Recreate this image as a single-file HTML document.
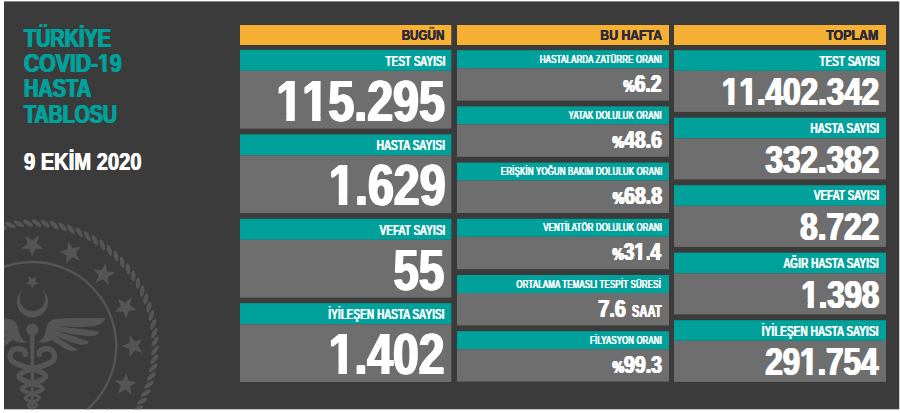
<!DOCTYPE html>
<html lang="tr"><head><meta charset="utf-8"><title>Türkiye COVID-19 Hasta Tablosu</title>
<style>
html,body{margin:0;padding:0;background:#fff;}
body{width:900px;height:413px;overflow:hidden;position:relative;font-family:"Liberation Sans", Arial, sans-serif;font-weight:bold;}
.t{position:absolute;white-space:nowrap;line-height:1;font-weight:bold;display:block;}
</style>
</head><body>
<svg xmlns="http://www.w3.org/2000/svg" width="900" height="413" viewBox="0 0 900 413" style="position:absolute;left:0;top:0"><defs><clipPath id="panel"><rect x="4" y="1.4" width="895.25" height="407.9"/></clipPath></defs>
<rect x="4.00" y="1.40" width="895.25" height="407.90" fill="#3b3b3b"/>
<g fill="#555555" clip-path="url(#panel)"><ellipse cx="155.12" cy="350.39" rx="5.7" ry="2.25" transform="rotate(-54.0 155.12 350.39)"/><ellipse cx="154.50" cy="359.15" rx="5.7" ry="2.25" transform="rotate(-49.9 154.50 359.15)"/><ellipse cx="153.25" cy="367.84" rx="5.7" ry="2.25" transform="rotate(-45.8 153.25 367.84)"/><ellipse cx="151.38" cy="376.42" rx="5.7" ry="2.25" transform="rotate(-41.7 151.38 376.42)"/><ellipse cx="148.91" cy="384.84" rx="5.7" ry="2.25" transform="rotate(-37.6 148.91 384.84)"/><ellipse cx="145.84" cy="393.07" rx="5.7" ry="2.25" transform="rotate(-33.5 145.84 393.07)"/><ellipse cx="142.19" cy="401.06" rx="5.7" ry="2.25" transform="rotate(-29.4 142.19 401.06)"/><ellipse cx="137.98" cy="408.76" rx="5.7" ry="2.25" transform="rotate(-25.3 137.98 408.76)"/><ellipse cx="133.23" cy="416.15" rx="5.7" ry="2.25" transform="rotate(-21.2 133.23 416.15)"/><ellipse cx="-6.64" cy="229.29" rx="5.7" ry="2.25" transform="rotate(-164.4 -6.64 229.29)"/><ellipse cx="1.78" cy="226.82" rx="5.7" ry="2.25" transform="rotate(-160.3 1.78 226.82)"/><ellipse cx="10.36" cy="224.95" rx="5.7" ry="2.25" transform="rotate(-156.2 10.36 224.95)"/><ellipse cx="19.05" cy="223.70" rx="5.7" ry="2.25" transform="rotate(-152.1 19.05 223.70)"/><ellipse cx="27.81" cy="223.08" rx="5.7" ry="2.25" transform="rotate(-148.0 27.81 223.08)"/><ellipse cx="36.59" cy="223.08" rx="5.7" ry="2.25" transform="rotate(-144.0 36.59 223.08)"/><ellipse cx="45.35" cy="223.70" rx="5.7" ry="2.25" transform="rotate(-139.9 45.35 223.70)"/><ellipse cx="54.04" cy="224.95" rx="5.7" ry="2.25" transform="rotate(-135.8 54.04 224.95)"/><ellipse cx="62.62" cy="226.82" rx="5.7" ry="2.25" transform="rotate(-131.7 62.62 226.82)"/><ellipse cx="71.04" cy="229.29" rx="5.7" ry="2.25" transform="rotate(-127.6 71.04 229.29)"/><ellipse cx="79.27" cy="232.36" rx="5.7" ry="2.25" transform="rotate(-123.5 79.27 232.36)"/><ellipse cx="87.26" cy="236.01" rx="5.7" ry="2.25" transform="rotate(-119.4 87.26 236.01)"/><ellipse cx="94.96" cy="240.22" rx="5.7" ry="2.25" transform="rotate(-115.3 94.96 240.22)"/><ellipse cx="102.35" cy="244.97" rx="5.7" ry="2.25" transform="rotate(-111.2 102.35 244.97)"/><ellipse cx="109.38" cy="250.23" rx="5.7" ry="2.25" transform="rotate(-107.1 109.38 250.23)"/><ellipse cx="116.01" cy="255.98" rx="5.7" ry="2.25" transform="rotate(-103.0 116.01 255.98)"/><ellipse cx="122.22" cy="262.19" rx="5.7" ry="2.25" transform="rotate(-99.0 122.22 262.19)"/><ellipse cx="127.97" cy="268.82" rx="5.7" ry="2.25" transform="rotate(-94.9 127.97 268.82)"/><ellipse cx="133.23" cy="275.85" rx="5.7" ry="2.25" transform="rotate(-90.8 133.23 275.85)"/><ellipse cx="137.98" cy="283.24" rx="5.7" ry="2.25" transform="rotate(-86.7 137.98 283.24)"/><ellipse cx="142.19" cy="290.94" rx="5.7" ry="2.25" transform="rotate(-82.6 142.19 290.94)"/><ellipse cx="145.84" cy="298.93" rx="5.7" ry="2.25" transform="rotate(-78.5 145.84 298.93)"/><ellipse cx="148.91" cy="307.16" rx="5.7" ry="2.25" transform="rotate(-74.4 148.91 307.16)"/><ellipse cx="151.38" cy="315.58" rx="5.7" ry="2.25" transform="rotate(-70.3 151.38 315.58)"/><ellipse cx="153.25" cy="324.16" rx="5.7" ry="2.25" transform="rotate(-66.2 153.25 324.16)"/><ellipse cx="154.50" cy="332.85" rx="5.7" ry="2.25" transform="rotate(-62.1 154.50 332.85)"/><ellipse cx="155.12" cy="341.61" rx="5.7" ry="2.25" transform="rotate(-58.0 155.12 341.61)"/><circle cx="32.2" cy="346" r="84" fill="none" stroke="#555555" stroke-width="2.4"/><polygon points="32.20,256.80 29.36,248.91 20.98,248.65 27.60,243.50 25.26,235.45 32.20,240.16 39.14,235.45 36.80,243.50 43.42,248.65 35.04,248.91"/><polygon points="66.34,263.59 66.73,255.22 59.09,251.76 67.17,249.55 68.10,241.21 72.70,248.22 80.91,246.52 75.67,253.07 79.82,260.35 71.98,257.39"/><polygon points="95.27,282.93 98.84,275.34 93.10,269.23 101.42,270.27 105.46,262.93 107.04,271.16 115.27,272.74 107.93,276.78 108.97,285.10 102.86,279.36"/><polygon points="114.61,311.86 120.81,306.22 117.85,298.38 125.13,302.53 131.68,297.29 129.98,305.50 136.99,310.10 128.65,311.03 126.44,319.11 122.98,311.47"/><polygon points="121.40,346.00 129.29,343.16 129.55,334.78 134.70,341.40 142.75,339.06 138.04,346.00 142.75,352.94 134.70,350.60 129.55,357.22 129.29,348.84"/><polygon points="114.61,380.14 122.98,380.53 126.44,372.89 128.65,380.97 136.99,381.90 129.98,386.50 131.68,394.71 125.13,389.47 117.85,393.62 120.81,385.78"/><polygon points="95.27,409.07 102.86,412.64 108.97,406.90 107.93,415.22 115.27,419.26 107.04,420.84 105.46,429.07 101.42,421.73 93.10,422.77 98.84,416.66"/><polygon points="-1.94,263.59 -7.58,257.39 -15.42,260.35 -11.27,253.07 -16.51,246.52 -8.30,248.22 -3.70,241.21 -2.77,249.55 5.31,251.76 -2.33,255.22"/><polygon points="32.40,289.10 30.64,284.22 25.46,284.06 29.55,280.88 28.11,275.89 32.40,278.81 36.69,275.89 35.25,280.88 39.34,284.06 34.16,284.22"/><path d="M23.6,289 A15.6,15.6 0 1,0 41.4,289 A12.8,12.8 0 1,1 23.6,289 Z"/><circle cx="32.3" cy="329.6" r="6.1"/><path d="M29.999999999999996,333 L34.599999999999994,333 L33.5,409 L31.099999999999998,409 Z"/><path d="M37.6,342.2 C41,341 44.5,337 45.6,332 C46.5,326 47.5,321.5 54,319.3 C60,317.8 80,317.6 105.2,318.2 C105,321.5 100,325 95,325.9 C85,327.3 70,327.2 58.3,326.3 C70,328 88,329.5 99.2,331.8 C99,334.5 94,336.6 88.9,336.2 C78,335.3 65,332.8 56.2,330.7 C65,333.8 80,337.5 88.9,341.6 C88.5,344.5 83,345.5 78,344.3 C68,341.5 60,338 55,335.6 C60,339.5 70,345 78,349.8 C76.5,352 70,351.2 66,349.2 C60,346 55,342.5 51.8,340 C48,342.5 42,343.5 37.6,342.2 Z"/><path d="M37.6,342.2 C41,341 44.5,337 45.6,332 C46.5,326 47.5,321.5 54,319.3 C60,317.8 80,317.6 105.2,318.2 C105,321.5 100,325 95,325.9 C85,327.3 70,327.2 58.3,326.3 C70,328 88,329.5 99.2,331.8 C99,334.5 94,336.6 88.9,336.2 C78,335.3 65,332.8 56.2,330.7 C65,333.8 80,337.5 88.9,341.6 C88.5,344.5 83,345.5 78,344.3 C68,341.5 60,338 55,335.6 C60,339.5 70,345 78,349.8 C76.5,352 70,351.2 66,349.2 C60,346 55,342.5 51.8,340 C48,342.5 42,343.5 37.6,342.2 Z" transform="translate(64.6 0) scale(-1 1)"/><path d="M39.1,354.5 C39.3,350.5 42.3,348.8 46.8,348.8 C51.8,348.8 54.6,352 54.6,356.6 C54.6,364 41.3,366 32.3,368.8" fill="none" stroke="#555555" stroke-width="5.4" stroke-linecap="round"/><path d="M32.3,368.8 C14.3,374.7 14.3,377.7 32.3,383.6" fill="none" stroke="#555555" stroke-width="5.2" stroke-linecap="round"/><path d="M32.3,383.6 C46.3,387.8 46.3,389.8 32.3,394" fill="none" stroke="#555555" stroke-width="4.3" stroke-linecap="round"/><path d="M32.3,394 C23.0,397.2 23.0,398.8 32.3,402" fill="none" stroke="#555555" stroke-width="3.4" stroke-linecap="round"/><path d="M32.3,402 C38.2,404.6 38.2,405.9 32.3,408.5" fill="none" stroke="#555555" stroke-width="2.7" stroke-linecap="round"/><path d="M25.5,354.5 C25.3,350.5 22.3,348.8 17.8,348.8 C12.8,348.8 10.0,352 10.0,356.6 C10.0,364 23.3,366 32.3,368.8" fill="none" stroke="#555555" stroke-width="5.4" stroke-linecap="round"/><path d="M32.3,368.8 C50.3,374.7 50.3,377.7 32.3,383.6" fill="none" stroke="#555555" stroke-width="5.2" stroke-linecap="round"/><path d="M32.3,383.6 C18.3,387.8 18.3,389.8 32.3,394" fill="none" stroke="#555555" stroke-width="4.3" stroke-linecap="round"/><path d="M32.3,394 C41.6,397.2 41.6,398.8 32.3,402" fill="none" stroke="#555555" stroke-width="3.4" stroke-linecap="round"/><path d="M32.3,402 C26.4,404.6 26.4,405.9 32.3,408.5" fill="none" stroke="#555555" stroke-width="2.7" stroke-linecap="round"/></g>
<rect x="240.00" y="25.00" width="211.30" height="20.00" fill="#f6b033"/>
<rect x="240.00" y="49.80" width="211.30" height="21.00" fill="#00a19b"/>
<rect x="240.00" y="70.80" width="211.30" height="57.80" fill="#6e6e6e"/>
<rect x="240.00" y="134.40" width="211.30" height="21.00" fill="#00a19b"/>
<rect x="240.00" y="155.40" width="211.30" height="57.80" fill="#6e6e6e"/>
<rect x="240.00" y="218.80" width="211.30" height="21.00" fill="#00a19b"/>
<rect x="240.00" y="239.80" width="211.30" height="57.80" fill="#6e6e6e"/>
<rect x="240.00" y="303.20" width="211.30" height="21.00" fill="#00a19b"/>
<rect x="240.00" y="324.20" width="211.30" height="57.80" fill="#6e6e6e"/>
<rect x="457.00" y="25.00" width="212.00" height="20.00" fill="#f6b033"/>
<rect x="457.00" y="50.20" width="212.00" height="18.00" fill="#00a19b"/>
<rect x="457.00" y="68.20" width="212.00" height="32.40" fill="#6e6e6e"/>
<rect x="457.00" y="106.40" width="212.00" height="18.00" fill="#00a19b"/>
<rect x="457.00" y="124.40" width="212.00" height="32.40" fill="#6e6e6e"/>
<rect x="457.00" y="162.60" width="212.00" height="18.00" fill="#00a19b"/>
<rect x="457.00" y="180.60" width="212.00" height="32.40" fill="#6e6e6e"/>
<rect x="457.00" y="218.80" width="212.00" height="18.00" fill="#00a19b"/>
<rect x="457.00" y="236.80" width="212.00" height="32.40" fill="#6e6e6e"/>
<rect x="457.00" y="275.00" width="212.00" height="18.00" fill="#00a19b"/>
<rect x="457.00" y="293.00" width="212.00" height="32.40" fill="#6e6e6e"/>
<rect x="457.00" y="331.20" width="212.00" height="18.00" fill="#00a19b"/>
<rect x="457.00" y="349.20" width="212.00" height="32.40" fill="#6e6e6e"/>
<rect x="674.00" y="25.00" width="212.00" height="20.00" fill="#f6b033"/>
<rect x="674.00" y="50.20" width="212.00" height="20.60" fill="#00a19b"/>
<rect x="674.00" y="70.80" width="212.00" height="41.10" fill="#6e6e6e"/>
<rect x="674.00" y="117.70" width="212.00" height="20.60" fill="#00a19b"/>
<rect x="674.00" y="138.30" width="212.00" height="41.10" fill="#6e6e6e"/>
<rect x="674.00" y="185.20" width="212.00" height="20.60" fill="#00a19b"/>
<rect x="674.00" y="205.80" width="212.00" height="41.10" fill="#6e6e6e"/>
<rect x="674.00" y="252.70" width="212.00" height="20.60" fill="#00a19b"/>
<rect x="674.00" y="273.30" width="212.00" height="41.10" fill="#6e6e6e"/>
<rect x="674.00" y="320.20" width="212.00" height="20.60" fill="#00a19b"/>
<rect x="674.00" y="340.80" width="212.00" height="41.10" fill="#6e6e6e"/>
</svg>
<header>
<span class="t" style="top:25.15px;font-size:26.70px;color:#00a19b;left:24.08px;transform-origin:0 0;transform:scaleX(0.7418);text-shadow:0.94px 0 0 #00a19b,-0.94px 0 0 #00a19b;">TÜRKİYE</span>
<span class="t" style="top:50.15px;font-size:26.70px;color:#00a19b;left:24.00px;transform-origin:0 0;transform:scaleX(0.7937);text-shadow:0.88px 0 0 #00a19b,-0.88px 0 0 #00a19b;font-kerning:none;">COVID-19</span>
<span class="t" style="top:75.15px;font-size:26.70px;color:#00a19b;left:24.00px;transform-origin:0 0;transform:scaleX(0.7454);text-shadow:0.94px 0 0 #00a19b,-0.94px 0 0 #00a19b;">HASTA</span>
<span class="t" style="top:101.15px;font-size:26.70px;color:#00a19b;left:24.16px;transform-origin:0 0;transform:scaleX(0.7320);text-shadow:0.96px 0 0 #00a19b,-0.96px 0 0 #00a19b;">TABLOSU</span>
<span class="t" style="top:150.65px;font-size:23.70px;color:#fff;left:23.92px;transform-origin:0 0;transform:scaleX(0.8498);text-shadow:0.47px 0 0 #fff,-0.47px 0 0 #fff;">9 EKİM 2020</span>
</header>
<section>
<span class="t" style="top:27.45px;font-size:15.10px;color:#2d2a3a;right:455.29px;transform-origin:100% 0;transform:scaleX(0.7714);text-shadow:0.32px 0 0 #2d2a3a,-0.32px 0 0 #2d2a3a;">BUGÜN</span>
<span class="t" style="top:55.10px;font-size:13.80px;color:#fff;right:454.67px;transform-origin:100% 0;transform:scaleX(0.6930);font-weight:normal;letter-spacing:0.4px;text-shadow:0.72px 0 0 #fff,-0.72px 0 0 #fff;">TEST SAYISI</span>
<span class="t" style="top:72.60px;font-size:57.80px;color:#fff;right:455.02px;transform-origin:100% 0;transform:scaleX(0.8066);text-shadow:1.24px 0 0 #fff,-1.24px 0 0 #fff;font-kerning:none;">115.295</span>
<span class="t" style="top:139.10px;font-size:13.80px;color:#fff;right:455.20px;transform-origin:100% 0;transform:scaleX(0.7111);font-weight:normal;letter-spacing:0.4px;text-shadow:0.70px 0 0 #fff,-0.70px 0 0 #fff;">HASTA SAYISI</span>
<span class="t" style="top:156.60px;font-size:57.80px;color:#fff;right:454.74px;transform-origin:100% 0;transform:scaleX(0.8060);text-shadow:1.24px 0 0 #fff,-1.24px 0 0 #fff;font-kerning:none;">1.629</span>
<span class="t" style="top:224.10px;font-size:13.80px;color:#fff;right:454.91px;transform-origin:100% 0;transform:scaleX(0.6949);font-weight:normal;letter-spacing:0.4px;text-shadow:0.72px 0 0 #fff,-0.72px 0 0 #fff;">VEFAT SAYISI</span>
<span class="t" style="top:241.60px;font-size:57.80px;color:#fff;right:455.66px;transform-origin:100% 0;transform:scaleX(0.7920);text-shadow:1.26px 0 0 #fff,-1.26px 0 0 #fff;">55</span>
<span class="t" style="top:308.10px;font-size:13.80px;color:#fff;right:454.96px;transform-origin:100% 0;transform:scaleX(0.7030);font-weight:normal;letter-spacing:0.4px;text-shadow:0.71px 0 0 #fff,-0.71px 0 0 #fff;">İYİLEŞEN HASTA SAYISI</span>
<span class="t" style="top:325.60px;font-size:57.80px;color:#fff;right:454.91px;transform-origin:100% 0;transform:scaleX(0.8015);text-shadow:1.25px 0 0 #fff,-1.25px 0 0 #fff;font-kerning:none;">1.402</span>
</section>
<section>
<span class="t" style="top:27.45px;font-size:15.10px;color:#2d2a3a;right:238.25px;transform-origin:100% 0;transform:scaleX(0.8116);text-shadow:0.31px 0 0 #2d2a3a,-0.31px 0 0 #2d2a3a;">BU HAFTA</span>
<span class="t" style="top:54.05px;font-size:10.90px;color:#fff;right:237.74px;transform-origin:100% 0;transform:scaleX(0.7101);font-weight:normal;letter-spacing:0.4px;text-shadow:0.51px 0 0 #fff,-0.51px 0 0 #fff;">HASTALARDA ZATÜRRE ORANI</span>
<span class="t" style="top:71.80px;font-size:24.40px;color:#fff;right:238.33px;transform-origin:100% 0;transform:scaleX(0.7865);text-shadow:0.89px 0 0 #fff,-0.89px 0 0 #fff;"><span style="font-size:16.3px">%</span>6.2</span>
<span class="t" style="top:110.05px;font-size:10.90px;color:#fff;right:238.13px;transform-origin:100% 0;transform:scaleX(0.7014);font-weight:normal;letter-spacing:0.4px;text-shadow:0.51px 0 0 #fff,-0.51px 0 0 #fff;">YATAK DOLULUK ORANI</span>
<span class="t" style="top:127.80px;font-size:24.40px;color:#fff;right:238.03px;transform-origin:100% 0;transform:scaleX(0.7979);text-shadow:0.88px 0 0 #fff,-0.88px 0 0 #fff;"><span style="font-size:16.3px">%</span>48.6</span>
<span class="t" style="top:166.05px;font-size:10.90px;color:#fff;right:238.00px;transform-origin:100% 0;transform:scaleX(0.7069);font-weight:normal;letter-spacing:0.4px;text-shadow:0.51px 0 0 #fff,-0.51px 0 0 #fff;">ERİŞKİN YOĞUN BAKIM DOLULUK ORANI</span>
<span class="t" style="top:183.80px;font-size:24.40px;color:#fff;right:238.13px;transform-origin:100% 0;transform:scaleX(0.7938);text-shadow:0.88px 0 0 #fff,-0.88px 0 0 #fff;"><span style="font-size:16.3px">%</span>68.8</span>
<span class="t" style="top:222.05px;font-size:10.90px;color:#fff;right:237.72px;transform-origin:100% 0;transform:scaleX(0.7028);font-weight:normal;letter-spacing:0.4px;text-shadow:0.51px 0 0 #fff,-0.51px 0 0 #fff;">VENTİLATÖR DOLULUK ORANI</span>
<span class="t" style="top:239.80px;font-size:24.40px;color:#fff;right:238.85px;transform-origin:100% 0;transform:scaleX(0.7839);text-shadow:0.89px 0 0 #fff,-0.89px 0 0 #fff;font-kerning:none;"><span style="font-size:16.3px">%</span>31.4</span>
<span class="t" style="top:279.05px;font-size:10.90px;color:#fff;right:239.26px;transform-origin:100% 0;transform:scaleX(0.7086);font-weight:normal;letter-spacing:0.4px;text-shadow:0.51px 0 0 #fff,-0.51px 0 0 #fff;">ORTALAMA TEMASLI TESPİT SÜRESİ</span>
<span class="t" style="top:296.80px;font-size:24.40px;color:#fff;right:274.11px;transform-origin:100% 0;transform:scaleX(0.8138);text-shadow:0.86px 0 0 #fff,-0.86px 0 0 #fff;">7.6</span>
<span class="t" style="top:303.25px;font-size:16.50px;color:#fff;right:238.70px;transform-origin:100% 0;transform:scaleX(0.6806);text-shadow:0.59px 0 0 #fff,-0.59px 0 0 #fff;">SAAT</span>
<span class="t" style="top:335.05px;font-size:10.90px;color:#fff;right:238.25px;transform-origin:100% 0;transform:scaleX(0.6985);font-weight:normal;letter-spacing:0.4px;text-shadow:0.52px 0 0 #fff,-0.52px 0 0 #fff;">FİLYASYON ORANI</span>
<span class="t" style="top:352.80px;font-size:24.40px;color:#fff;right:238.26px;transform-origin:100% 0;transform:scaleX(0.7983);text-shadow:0.88px 0 0 #fff,-0.88px 0 0 #fff;"><span style="font-size:16.3px">%</span>99.3</span>
</section>
<section>
<span class="t" style="top:27.45px;font-size:15.10px;color:#2d2a3a;right:21.58px;transform-origin:100% 0;transform:scaleX(0.8243);text-shadow:0.30px 0 0 #2d2a3a,-0.30px 0 0 #2d2a3a;">TOPLAM</span>
<span class="t" style="top:55.10px;font-size:13.80px;color:#fff;right:20.62px;transform-origin:100% 0;transform:scaleX(0.6933);font-weight:normal;letter-spacing:0.4px;text-shadow:0.72px 0 0 #fff,-0.72px 0 0 #fff;">TEST SAYISI</span>
<span class="t" style="top:72.60px;font-size:38.80px;color:#fff;right:21.29px;transform-origin:100% 0;transform:scaleX(0.8098);text-shadow:1.05px 0 0 #fff,-1.05px 0 0 #fff;font-kerning:none;">11.402.342</span>
<span class="t" style="top:122.10px;font-size:13.80px;color:#fff;right:20.80px;transform-origin:100% 0;transform:scaleX(0.7136);font-weight:normal;letter-spacing:0.4px;text-shadow:0.70px 0 0 #fff,-0.70px 0 0 #fff;">HASTA SAYISI</span>
<span class="t" style="top:140.60px;font-size:38.80px;color:#fff;right:20.88px;transform-origin:100% 0;transform:scaleX(0.8117);text-shadow:1.05px 0 0 #fff,-1.05px 0 0 #fff;">332.382</span>
<span class="t" style="top:189.10px;font-size:13.80px;color:#fff;right:20.92px;transform-origin:100% 0;transform:scaleX(0.6927);font-weight:normal;letter-spacing:0.4px;text-shadow:0.72px 0 0 #fff,-0.72px 0 0 #fff;">VEFAT SAYISI</span>
<span class="t" style="top:207.60px;font-size:38.80px;color:#fff;right:21.40px;transform-origin:100% 0;transform:scaleX(0.8123);text-shadow:1.05px 0 0 #fff,-1.05px 0 0 #fff;">8.722</span>
<span class="t" style="top:257.10px;font-size:13.80px;color:#fff;right:21.09px;transform-origin:100% 0;transform:scaleX(0.7010);font-weight:normal;letter-spacing:0.4px;text-shadow:0.71px 0 0 #fff,-0.71px 0 0 #fff;">AĞIR HASTA SAYISI</span>
<span class="t" style="top:275.60px;font-size:38.80px;color:#fff;right:21.20px;transform-origin:100% 0;transform:scaleX(0.7995);text-shadow:1.06px 0 0 #fff,-1.06px 0 0 #fff;font-kerning:none;">1.398</span>
<span class="t" style="top:325.10px;font-size:13.80px;color:#fff;right:20.76px;transform-origin:100% 0;transform:scaleX(0.7066);font-weight:normal;letter-spacing:0.4px;text-shadow:0.71px 0 0 #fff,-0.71px 0 0 #fff;">İYİLEŞEN HASTA SAYISI</span>
<span class="t" style="top:342.60px;font-size:38.80px;color:#fff;right:21.98px;transform-origin:100% 0;transform:scaleX(0.8047);text-shadow:1.06px 0 0 #fff,-1.06px 0 0 #fff;font-kerning:none;">291.754</span>
</section>
<svg xmlns="http://www.w3.org/2000/svg" width="900" height="413" viewBox="0 0 900 413" style="position:absolute;left:0;top:0"><g fill="#6e6e6e"><rect x="277.09" y="113.90" width="9.23" height="8.30"/><rect x="294.81" y="113.90" width="8.58" height="8.30"/><rect x="303.02" y="113.90" width="9.08" height="8.30"/><rect x="320.58" y="113.90" width="8.73" height="8.30"/><rect x="329.31" y="197.90" width="9.50" height="8.30"/><rect x="347.32" y="197.90" width="8.27" height="8.30"/><rect x="329.78" y="366.90" width="8.72" height="8.30"/><rect x="346.94" y="366.90" width="9.00" height="8.30"/><rect x="633.77" y="256.31" width="4.31" height="4.89"/><rect x="642.25" y="256.31" width="4.42" height="4.89"/><rect x="721.28" y="99.84" width="6.96" height="6.36"/><rect x="734.49" y="99.84" width="5.72" height="6.36"/><rect x="738.76" y="99.84" width="6.96" height="6.36"/><rect x="752.00" y="99.84" width="5.68" height="6.36"/><rect x="800.98" y="302.84" width="6.66" height="6.36"/><rect x="813.86" y="302.84" width="5.85" height="6.36"/><rect x="799.70" y="369.84" width="6.72" height="6.36"/><rect x="812.68" y="369.84" width="5.85" height="6.36"/></g><g fill="#3b3b3b"><rect x="97.51" y="68.08" width="4.85" height="5.12"/><rect x="106.71" y="68.08" width="4.66" height="5.12"/></g></svg>
</body></html>
